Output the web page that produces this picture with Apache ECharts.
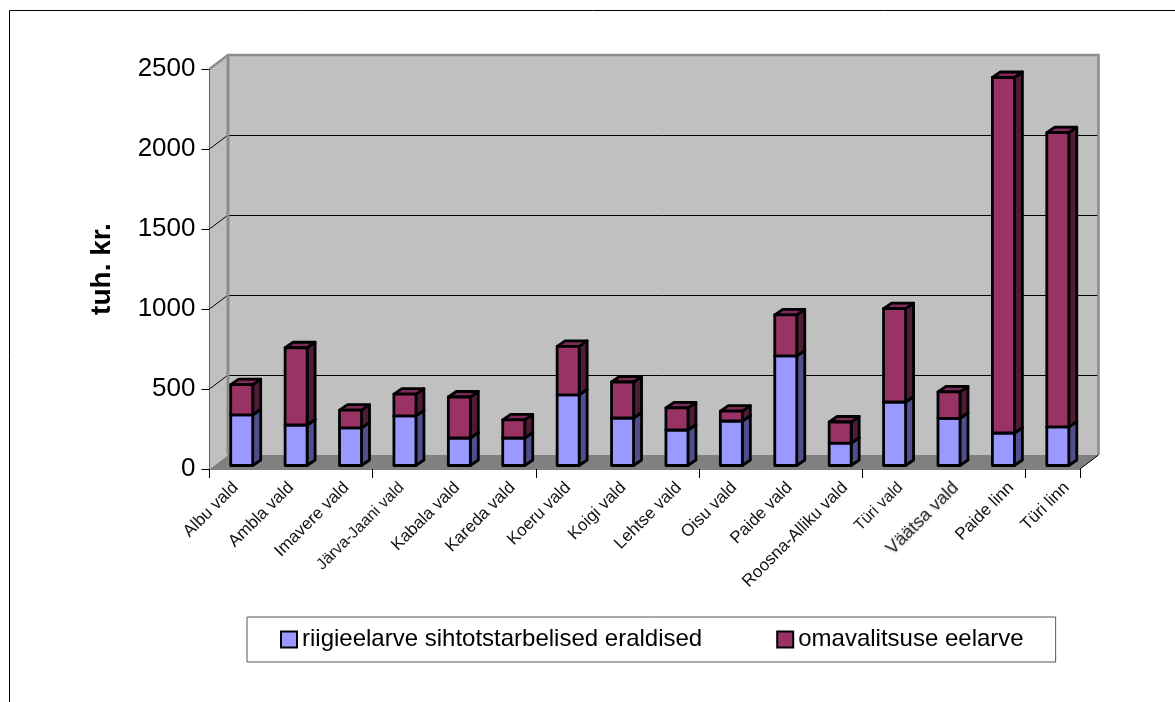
<!DOCTYPE html>
<html><head><meta charset="utf-8">
<style>html,body{margin:0;padding:0;background:#fff}#c{width:1175px;height:702px}</style>
<script src="https://cdn.jsdelivr.net/npm/echarts@6/dist/echarts.min.js"></script></head>
<body><div id="c"></div>
<script>
const categories = ['Albu vald','Ambla vald','Imavere vald','Järva-Jaani vald','Kabala vald','Kareda vald','Koeru vald','Koigi vald','Lehtse vald','Oisu vald','Paide vald','Roosna-Alliku vald','Türi vald','Väätsa vald','Paide linn','Türi linn'];
const riigieelarve = [317,253,235,310,172,172,442,297,222,278,685,140,397,295,203,241];
const omavalitsus  = [188,483,111,136,256,113,303,225,138,62,257,132,583,165,2222,1839];
const yTicks = [500,1000,1500,2000,2500];
const seriesNames = ['riigieelarve sihtotstarbelised eraldised','omavalitsuse eelarve'];

const DX = 18.5, DY = -14;          // wall depth
const BX = 8, BY = -5.5;            // bar depth
const FX = 5, FY = -3.5;            // bar front offset from the front plane
const BAR = 22;
const FONT = '"Liberation Sans", Arial, sans-serif';

function poly(points, fill, stroke, lw) {
  return {type:'polygon', shape:{points}, style:{fill, stroke:stroke||null, lineWidth:lw||0, lineJoin:'round'}};
}
function line(x1,y1,x2,y2,stroke,lw){
  return {type:'line', shape:{x1,y1,x2,y2}, style:{stroke, lineWidth:lw}};
}
function renderWalls(params, api) {
  const a = api.coord([0,0]);
  const s = api.size([1,0])[0];
  const top = api.coord([0,2500])[1];
  const x0 = a[0]-s/2, y0 = a[1], x1 = x0 + s*categories.length;
  const c = [];
  c.push(poly([[x0,y0],[x0+DX,y0+DY],[x1+DX,y0+DY],[x1,y0]],'#808080'));
  c.push(poly([[x0,top],[x0+DX,top+DY],[x0+DX,y0+DY],[x0,y0]],'#c0c0c0'));
  c.push(poly([[x0+DX,top+DY],[x1+DX,top+DY],[x1+DX,y0+DY],[x0+DX,y0+DY]],'#c0c0c0'));
  yTicks.slice(0,-1).forEach(v=>{
    const y = api.coord([0,v])[1];
    c.push(line(x0,y,x0+DX,y+DY,'#000',1));
    c.push(line(x0+DX,y+DY+0.5,x1+DX,y+DY+0.5,'#000',1));
  });
  c.push({type:'polyline',shape:{points:[[x0,top],[x0+DX,top+DY],[x1+DX,top+DY],[x1+DX,y0+DY]]},style:{stroke:'#8c8c8c',lineWidth:2.5,fill:null}});
  c.push(line(x0+DX,top+DY,x0+DX,y0+DY,'#8c8c8c',3));
  c.push(line(x1,y0,x1+DX,y0+DY,'#000',1));
  return {type:'group',children:c};
}
function barRenderer(front, side, topc) {
  return function(params, api){
    const cat = api.value(0), lo = api.value(1), hi = api.value(2);
    const b = api.coord([cat,lo]), t = api.coord([cat,hi]);
    const x0 = b[0]+FX-BAR/2, x1 = x0+BAR;
    const yb = b[1]+FY, yt = t[1]+FY;
    const st = '#000', w = 2.8;
    return {type:'group',children:[
      poly([[x1,yb],[x1+BX,yb+BY],[x1+BX,yt+BY],[x1,yt]],side,st,w),
      poly([[x0,yt],[x0+BX,yt+BY],[x1+BX,yt+BY],[x1,yt]],topc,st,w),
      poly([[x0,yb],[x0,yt],[x1,yt],[x1,yb]],front,st,w)
    ]};
  };
}
const blueData = categories.map((c,i)=>[i,0,riigieelarve[i]]);
const purpleData = categories.map((c,i)=>[i,riigieelarve[i],riigieelarve[i]+omavalitsus[i]]);

const chart = echarts.init(document.getElementById('c'),null,{renderer:'canvas'});
chart.setOption({
  animation:false,
  backgroundColor:'#fff',
  textStyle:{fontFamily:FONT},
  grid:[
    {left:209.5,top:69,width:870.5,height:400,containLabel:false},
    {left:207.9,top:69,width:886.4,height:400,containLabel:false}
  ],
  xAxis:[
   {type:'category',gridIndex:0,data:categories,boundaryGap:true,
    axisLine:{show:true,lineStyle:{color:'#808080',width:1}},
    axisTick:{show:true,length:9,lineStyle:{color:'#000',width:1}},
    axisLabel:{show:false},
    splitLine:{show:false}},
   {type:'category',gridIndex:1,data:categories,boundaryGap:true,
    axisLine:{show:false},axisTick:{show:false},
    axisLabel:{interval:0,rotate:45,fontSize:17,color:'#111',fontFamily:FONT,margin:16,
      formatter:function(v){
        if(v==='Järva-Jaani vald') return '{m|'+v+'}';
        if(v==='Türi vald') return '{m|'+v+'}';
        if(v==='Väätsa vald') return '{g|'+v+'}';
        return v;
      },
      rich:{
        m:{fontSize:16,color:'#222',fontFamily:FONT},
        g:{fontSize:18,color:'#333',fontFamily:FONT,textShadowColor:'#bbb',textShadowBlur:2,textShadowOffsetX:0,textShadowOffsetY:1}
      }},
    splitLine:{show:false}}
  ],
  yAxis:[
   {type:'value',gridIndex:0,min:0,max:2500,interval:500,
    name:'tuh. kr.',nameLocation:'middle',nameGap:93,nameTextStyle:{fontSize:28,fontWeight:'bold',color:'#000',fontFamily:FONT},
    axisLine:{show:true,lineStyle:{color:'#000',width:1}},
    axisTick:{show:true,length:8,lineStyle:{color:'#000',width:1}},
    axisLabel:{fontSize:26,color:'#000',fontFamily:FONT,margin:14,formatter:function(v){return String(v);}},
    splitLine:{show:false}},
   {type:'value',gridIndex:1,min:0,max:2500,show:false}
  ],
  legend:{left:247,top:617,orient:'horizontal',
    data:seriesNames,
    itemWidth:16,itemHeight:16,itemGap:74,
    padding:[0,32,0,33],
    height:45,
    borderColor:'#555',borderWidth:1,
    icon:'rect',
    selectedMode:false,
    textStyle:{fontSize:24,color:'#000',fontFamily:FONT,lineHeight:45}},
  graphic:[{type:'polyline',silent:true,shape:{points:[[9.5,710],[9.5,10.5],[1185,10.5]]},style:{stroke:'#000',lineWidth:1,fill:null}}],
  series:[
    {type:'custom',name:'walls',xAxisIndex:0,yAxisIndex:0,data:[[0,0]],encode:{x:0,y:1},renderItem:renderWalls,silent:true,z:1,clip:false},
    {type:'custom',name:seriesNames[0],xAxisIndex:0,yAxisIndex:0,data:blueData,encode:{x:0,y:[1,2]},renderItem:barRenderer('#9999ff','#4f4f8e','#7a7ad0'),z:2,clip:false,
      itemStyle:{color:'#9999ff',borderColor:'#000',borderWidth:2.5}},
    {type:'custom',name:seriesNames[1],xAxisIndex:0,yAxisIndex:0,data:purpleData,encode:{x:0,y:[1,2]},renderItem:barRenderer('#993366','#4f1c38','#80295a'),z:3,clip:false,
      itemStyle:{color:'#993366',borderColor:'#000',borderWidth:2.5}}
  ]
});
</script></body></html>
